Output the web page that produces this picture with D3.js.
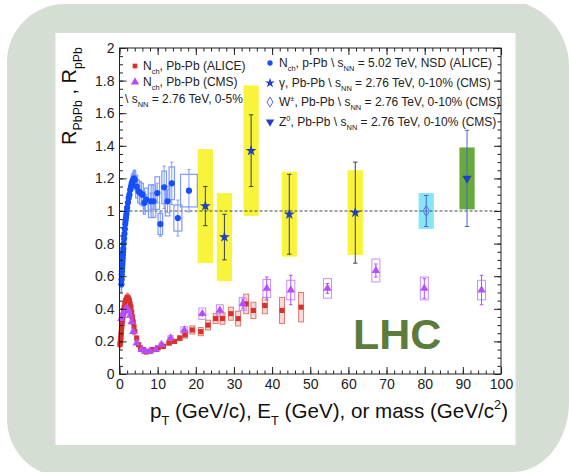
<!DOCTYPE html>
<html>
<head>
<meta charset="utf-8">
<script src="https://cdn.jsdelivr.net/npm/d3@7"></script>
<style>
  body { margin: 0; background: #ffffff; }
  svg { display: block; font-family: "Liberation Sans", Arial, Helvetica, sans-serif; }
</style>
</head>
<body>
<svg id="chart" width="569" height="472"></svg>
<script>
// ---------------- data ----------------
// Charged hadrons, p-Pb, sqrt(sNN) = 5.02 TeV, NSD (ALICE)
const pPbPt   = [0.5,0.55,0.6,0.65,0.7,0.75,0.8,0.85,0.9,0.95,1.0,1.1,1.2,1.3,1.4,1.5,1.6,1.7,1.8,1.9,2.0,2.2,2.4,2.6,2.8,3.0,3.2,3.4,3.6,3.8,4.0,4.5,5.0,5.5,6.0,6.5,7.0,8.2,8.9,9.9,10.7,11.7,12.6,13.7,15.3,18.2];
const pPbR    = [0.55,0.58,0.61,0.63,0.65,0.67,0.69,0.71,0.73,0.75,0.77,0.80,0.83,0.86,0.89,0.92,0.94,0.96,0.98,1.00,1.02,1.05,1.08,1.10,1.13,1.15,1.17,1.18,1.19,1.20,1.19,1.15,1.12,1.11,1.10,1.05,1.07,1.06,1.06,1.11,0.92,1.145,1.06,1.17,0.957,1.125];
const pPbSys  = [0.05,0.05,0.05,0.05,0.05,0.05,0.05,0.05,0.05,0.05,0.05,0.05,0.05,0.05,0.05,0.05,0.05,0.05,0.05,0.05,0.05,0.05,0.05,0.05,0.05,0.05,0.05,0.05,0.05,0.05,0.06,0.07,0.07,0.07,0.07,0.07,0.07,0.10,0.10,0.10,0.065,0.10,0.09,0.10,0.08,0.10];
const pPbStat = [0.005,0.005,0.005,0.005,0.005,0.005,0.005,0.005,0.005,0.005,0.005,0.005,0.005,0.005,0.005,0.005,0.005,0.005,0.005,0.005,0.005,0.005,0.005,0.005,0.005,0.005,0.005,0.005,0.005,0.005,0.01,0.01,0.01,0.02,0.02,0.02,0.03,0.05,0.05,0.06,0.075,0.13,0.07,0.13,0.11,0.13];
const pPbBin  = [0.05,0.05,0.05,0.05,0.05,0.05,0.05,0.05,0.05,0.05,0.08,0.08,0.08,0.08,0.08,0.08,0.08,0.08,0.08,0.08,0.12,0.12,0.12,0.12,0.12,0.12,0.12,0.12,0.12,0.12,0.25,0.25,0.25,0.25,0.25,0.25,0.5,0.6,0.6,0.6,0.6,0.6,0.6,0.7,1.05,2.2];

// Charged hadrons, Pb-Pb 0-5% (ALICE)
const pbAlicePt  = [0.15,0.2,0.25,0.3,0.35,0.4,0.45,0.5,0.6,0.7,0.8,0.9,1.0,1.1,1.2,1.4,1.6,1.8,2.0,2.2,2.4,2.6,2.8,3.0,3.2,3.4,3.6,3.8,4.0,4.5,5.0,5.5,6.0,6.5,7.0,8.0,8.7,10.1,11.5,13.0,14.4,15.8,17.2,19.1,21.3,23.2,25.2,27.0,29.2,31.1,33.2,35.1,38.1,42.6,47.6];
const pbAliceR   = [0.18,0.19,0.20,0.21,0.22,0.24,0.25,0.27,0.29,0.31,0.33,0.35,0.37,0.39,0.41,0.43,0.45,0.46,0.47,0.47,0.46,0.45,0.43,0.41,0.38,0.35,0.32,0.29,0.26,0.22,0.18,0.16,0.15,0.14,0.135,0.14,0.15,0.16,0.17,0.19,0.20,0.22,0.24,0.27,0.26,0.30,0.34,0.34,0.37,0.34,0.43,0.39,0.42,0.39,0.41];
const pbAliceSys = [0.025,0.025,0.025,0.025,0.025,0.025,0.025,0.025,0.025,0.025,0.025,0.025,0.025,0.025,0.025,0.025,0.025,0.025,0.025,0.025,0.025,0.025,0.025,0.025,0.025,0.025,0.025,0.025,0.02,0.015,0.012,0.01,0.01,0.01,0.01,0.01,0.01,0.01,0.012,0.012,0.012,0.015,0.02,0.025,0.025,0.03,0.03,0.035,0.04,0.045,0.06,0.05,0.05,0.08,0.09];
const pbAliceBin = [0.05,0.05,0.05,0.05,0.05,0.05,0.05,0.05,0.08,0.08,0.08,0.08,0.08,0.08,0.08,0.12,0.12,0.12,0.12,0.12,0.12,0.12,0.12,0.12,0.12,0.12,0.12,0.12,0.12,0.25,0.25,0.25,0.25,0.25,0.25,0.5,0.6,0.6,0.6,0.6,0.6,0.6,0.6,0.65,0.65,0.65,0.65,0.65,0.65,0.65,0.65,0.65,0.65,0.65,0.65];

// Charged hadrons, Pb-Pb (CMS)
const pbCmsPt   = [0.5,0.8,1.1,1.4,1.7,2.0,2.4,2.8,3.2,3.6,4.5,5.8,6.8,8.0,9.5,11.0,13.4,17.0,21.7,26.3,32.3,38.6,44.9,54.5,67.2,79.9,94.9];
const pbCmsR    = [0.34,0.36,0.38,0.39,0.40,0.40,0.39,0.36,0.32,0.26,0.19,0.15,0.14,0.14,0.15,0.18,0.22,0.27,0.37,0.39,0.43,0.525,0.515,0.525,0.635,0.525,0.515];
const pbCmsSys  = [0.02,0.02,0.02,0.02,0.02,0.02,0.02,0.02,0.02,0.02,0.01,0.01,0.01,0.01,0.01,0.012,0.015,0.02,0.035,0.035,0.04,0.055,0.06,0.06,0.07,0.07,0.06];
const pbCmsStat = [0.005,0.005,0.005,0.005,0.005,0.005,0.005,0.005,0.005,0.005,0.005,0.005,0.005,0.005,0.005,0.005,0.01,0.01,0.02,0.02,0.03,0.07,0.09,0.03,0.04,0.06,0.09];
const pbCmsBin  = [0.15,0.15,0.15,0.15,0.15,0.15,0.15,0.15,0.15,0.15,0.3,0.4,0.4,0.5,0.5,0.6,0.7,0.9,0.9,0.9,0.9,1.0,1.05,1.05,1.05,1.05,1.05];

// Isolated photons, Z0 and W bosons, Pb-Pb 0-10% (CMS)
const gammaEt   = [22.5, 27.5, 34.5, 44.5, 61.8];
const gammaR    = [1.03, 0.84, 1.37, 0.98, 0.99];
const gammaStat = [0.12, 0.14, 0.22, 0.245, 0.31];
const gammaSys  = [0.35, 0.27, 0.40, 0.26, 0.26];
const gammaBin  = [2.0, 2.0, 2.0, 2.0, 2.0];

const wMass = [80.4], wR = [1.0], wStat = [0.095], wSys = [0.11], wBin = [2.0];
const zMass = [91.1], zR = [1.20], zStat = [0.295], zSys = [0.19], zBin = [2.0];

const xTicks = [0,10,20,30,40,50,60,70,80,90,100];
const yTicks = [0,0.2,0.4,0.6,0.8,1,1.2,1.4,1.6,1.8,2];

// ---------------- layout ----------------
const svg = d3.select("#chart");
const W = 569, H = 472;
const plot = { left: 119.5, right: 501, top: 48, bottom: 374 };

const x = d3.scaleLinear().domain([0, 100]).range([plot.left, plot.right]);
const y = d3.scaleLinear().domain([0, 2]).range([plot.bottom, plot.top]);

const col = {
  bg: "#d5ded3",
  red: "#d8302a", redBox: "#e07a72", redFill: "rgba(220,90,80,0.22)",
  cms: "#b84dff", cmsBox: "#c58cff",
  blue: "#1450ff", blueBox: "#7e98ff",
  star: "#1f3fc0", bar: "#3b3f55",
  yellow: "#f8f43c", cyan: "#86e6f8", green: "#6aaa3c",
  lhc: "#5b7c3c"
};

// backdrop: sage rounded card with white panel
svg.append("rect").attr("x", 7).attr("y", 4).attr("width", 600).attr("height", 473)
  .attr("rx", 58).attr("ry", 58).attr("fill", col.bg);
// right side of the card is rounded against the window edge
svg.append("path")
  .attr("d", `M${W-66},0 L${W},0 L${W},66 A66,66 0 0 0 ${W-66},0 Z`)
  .attr("fill", "#ffffff");
svg.append("path")
  .attr("d", `M${W},${H-70} L${W},${H} L${W-56},${H} A56,70 0 0 0 ${W},${H-70} Z`)
  .attr("fill", "#ffffff");
svg.append("rect").attr("x", 55.5).attr("y", 33).attr("width", 460).attr("height", 412)
  .attr("fill", "#ffffff");

const g = svg.append("g");

// ---------- helpers ----------
function richText(sel, parts, size) {
  let cur = 0;
  parts.forEach(p => {
    const off = p.sub ? size * 0.32 : p.sup ? -size * 0.42 : 0;
    const ts = sel.append("tspan").text(p.t).attr("dy", off - cur);
    if (p.sub || p.sup) ts.attr("font-size", size * 0.62);
    cur = off;
  });
}

function zip(xs, ys, sys, stat, bin) {
  return xs.map((v, i) => ({ x: v, y: ys[i], sys: sys ? sys[i] : 0, stat: stat ? stat[i] : 0, bin: bin ? bin[i] : 0 }));
}

function drawBoxes(data, opts) {
  g.append("g").selectAll("rect").data(data).join("rect")
    .attr("x", d => x(d.x - d.bin))
    .attr("width", d => x(d.x + d.bin) - x(d.x - d.bin))
    .attr("y", d => y(d.y + d.sys))
    .attr("height", d => y(d.y - d.sys) - y(d.y + d.sys))
    .attr("fill", opts.fill || "none")
    .attr("stroke", opts.stroke || "none")
    .attr("stroke-width", opts.sw || 1);
}

function drawErrors(data, color, cap, sw) {
  const eg = g.append("g").attr("stroke", color).attr("stroke-width", sw || 1).attr("fill", "none");
  eg.selectAll("line.v").data(data.filter(d => d.stat > 0)).join("line").attr("class", "v")
    .attr("x1", d => x(d.x)).attr("x2", d => x(d.x))
    .attr("y1", d => y(d.y - d.stat)).attr("y2", d => y(d.y + d.stat));
  if (cap) {
    ["+", "-"].forEach(s => {
      eg.selectAll("line.c" + (s === "+" ? "p" : "m")).data(data.filter(d => d.stat > 0.02)).join("line")
        .attr("class", "c" + (s === "+" ? "p" : "m"))
        .attr("x1", d => x(d.x) - cap).attr("x2", d => x(d.x) + cap)
        .attr("y1", d => y(s === "+" ? d.y + d.stat : d.y - d.stat))
        .attr("y2", d => y(s === "+" ? d.y + d.stat : d.y - d.stat));
    });
  }
}

function drawMarkers(data, type, size, fill, stroke, rot) {
  const sym = d3.symbol().type(type).size(size);
  g.append("g").selectAll("path").data(data).join("path")
    .attr("d", sym)
    .attr("transform", d => `translate(${x(d.x)},${y(d.y)})` + (rot ? ` rotate(${rot})` : ""))
    .attr("fill", fill)
    .attr("stroke", stroke || "none")
    .attr("stroke-width", 1);
}

const pPb = zip(pPbPt, pPbR, pPbSys, pPbStat, pPbBin);
const pbAlice = zip(pbAlicePt, pbAliceR, pbAliceSys, null, pbAliceBin);
const pbCms = zip(pbCmsPt, pbCmsR, pbCmsSys, pbCmsStat, pbCmsBin);
const gamma = zip(gammaEt, gammaR, gammaSys, gammaStat, gammaBin);
const wBos = zip(wMass, wR, wSys, wStat, wBin);
const zBos = zip(zMass, zR, zSys, zStat, zBin);

// filled systematic boxes of the electroweak probes
drawBoxes(gamma, { fill: col.yellow });
drawBoxes(wBos, { fill: col.cyan });
drawBoxes(zBos, { fill: col.green });

// reference line at R = 1
g.append("line")
  .attr("x1", x(0)).attr("x2", x(100)).attr("y1", y(1)).attr("y2", y(1))
  .attr("stroke", "#444").attr("stroke-width", 1).attr("stroke-dasharray", "3,2");

// charged-hadron systematic boxes
drawBoxes(pbAlice, { fill: col.redFill, stroke: col.redBox });
drawBoxes(pbCms, { stroke: col.cmsBox });
drawBoxes(pPb, { stroke: col.blueBox, sw: 1.2 });

// statistical error bars
drawErrors(pPb, col.blueBox, 1.5);
drawErrors(pbCms, col.cms, 1.8);

// markers
drawMarkers(pbAlice, d3.symbolSquare, 26, col.red);
drawMarkers(pbCms, d3.symbolTriangle, 30, col.cms);
drawMarkers(pPb, d3.symbolCircle, 30, col.blue);

drawErrors(gamma, col.bar, 2.2);
drawErrors(wBos, "#4a62e0", 2.2);
drawErrors(zBos, "#4a62e0", 2.2);
drawMarkers(gamma, d3.symbolStar, 38, col.star);
drawMarkers(wBos, d3.symbolDiamond, 34, "none", "#5a6cf0");
drawMarkers(zBos, d3.symbolTriangle, 36, col.star, null, 180);

// ---------- frame and axes ----------
const axG = svg.append("g").attr("font-family", "'Liberation Sans', Arial, sans-serif");
const minorX = d3.range(0, 101, 2);
const minorY = d3.range(0, 2.001, 0.05);

function ticksAxis(axisFn, scale, values, len, translate, labels) {
  const a = axisFn(scale).tickValues(values).tickSizeInner(-len).tickSizeOuter(0);
  if (labels) a.tickPadding(5).tickFormat(d3.format("~g"));
  else a.tickFormat("");
  const sel = axG.append("g").attr("transform", translate).call(a);
  sel.select(".domain").remove();
  sel.selectAll("line").attr("stroke", "#222");
  return sel;
}

const xb = ticksAxis(d3.axisBottom, x, xTicks, 7, `translate(0,${plot.bottom})`, true);
ticksAxis(d3.axisBottom, x, minorX, 3.5, `translate(0,${plot.bottom})`, false);
ticksAxis(d3.axisTop, x, xTicks, 7, `translate(0,${plot.top})`, false);
ticksAxis(d3.axisTop, x, minorX, 3.5, `translate(0,${plot.top})`, false);
const yl = ticksAxis(d3.axisLeft, y, yTicks, 7, `translate(${plot.left},0)`, true);
ticksAxis(d3.axisLeft, y, minorY, 3.5, `translate(${plot.left},0)`, false);
ticksAxis(d3.axisRight, y, yTicks, 7, `translate(${plot.right},0)`, false);
ticksAxis(d3.axisRight, y, minorY, 3.5, `translate(${plot.right},0)`, false);

xb.selectAll("text").attr("font-size", 14).attr("fill", "#222");
yl.selectAll("text").attr("font-size", 14).attr("fill", "#222");

axG.append("rect")
  .attr("x", plot.left).attr("y", plot.top)
  .attr("width", plot.right - plot.left).attr("height", plot.bottom - plot.top)
  .attr("fill", "none").attr("stroke", "#222").attr("stroke-width", 1);

// axis titles
const xt = axG.append("text").attr("x", 508).attr("y", 418)
  .attr("text-anchor", "end").attr("font-size", 20.6).attr("fill", "#111");
richText(xt, [{ t: "p" }, { t: "T", sub: true }, { t: " (GeV/c), E" }, { t: "T", sub: true },
  { t: " (GeV), or mass (GeV/c" }, { t: "2", sup: true }, { t: ")" }], 20.6);

const yt = axG.append("text").attr("transform", "translate(76,47) rotate(-90)")
  .attr("text-anchor", "end").attr("font-size", 20).attr("fill", "#111");
richText(yt, [{ t: "R" }, { t: "PbPb", sub: true }, { t: " , R" }, { t: "pPb", sub: true }], 20);

// ---------- legend ----------
const leg = svg.append("g").attr("font-size", 12).attr("fill", "#222");
const s12 = 12;
function legendRow(mx, tx, ty, marker, parts) {
  if (marker) {
    leg.append("path")
      .attr("d", d3.symbol().type(marker.type).size(marker.size))
      .attr("transform", `translate(${mx},${ty - 4})` + (marker.rot ? ` rotate(${marker.rot})` : ""))
      .attr("fill", marker.fill).attr("stroke", marker.stroke || "none");
  }
  const t = leg.append("text").attr("x", tx).attr("y", ty);
  richText(t, parts, s12);
}
const sNN = [{ t: "\\ s" }, { t: "NN", sub: true }];
legendRow(135, 143, 70, { type: d3.symbolSquare, size: 22, fill: col.red },
  [{ t: "N" }, { t: "ch", sub: true }, { t: ", Pb-Pb (ALICE)" }]);
legendRow(135, 143, 86, { type: d3.symbolTriangle, size: 30, fill: col.cms },
  [{ t: "N" }, { t: "ch", sub: true }, { t: ", Pb-Pb (CMS)" }]);
legendRow(null, 125, 103, null,
  [...sNN, { t: " = 2.76 TeV, 0-5%" }]);

legendRow(270, 279, 67, { type: d3.symbolCircle, size: 22, fill: col.blue },
  [{ t: "N" }, { t: "ch", sub: true }, { t: ", p-Pb " }, ...sNN, { t: " = 5.02 TeV, NSD (ALICE)" }]);
legendRow(270, 279, 87, { type: d3.symbolStar, size: 30, fill: col.star },
  [{ t: "γ, Pb-Pb " }, ...sNN, { t: " = 2.76 TeV, 0-10% (CMS)" }]);
legendRow(270, 279, 106, { type: d3.symbolDiamond, size: 30, fill: "none", stroke: "#5a6cf0" },
  [{ t: "W" }, { t: "±", sup: true }, { t: ", Pb-Pb " }, ...sNN, { t: " = 2.76 TeV, 0-10% (CMS)" }]);
legendRow(270, 279, 126, { type: d3.symbolTriangle, size: 30, fill: col.star, rot: 180 },
  [{ t: "Z" }, { t: "0", sup: true }, { t: ", Pb-Pb " }, ...sNN, { t: " = 2.76 TeV, 0-10% (CMS)" }]);

// LHC tag
svg.append("text").attr("x", 353).attr("y", 349)
  .attr("font-size", 43).attr("font-weight", "bold").attr("fill", col.lhc)
  .text("LHC");
</script>
</body>
</html>
